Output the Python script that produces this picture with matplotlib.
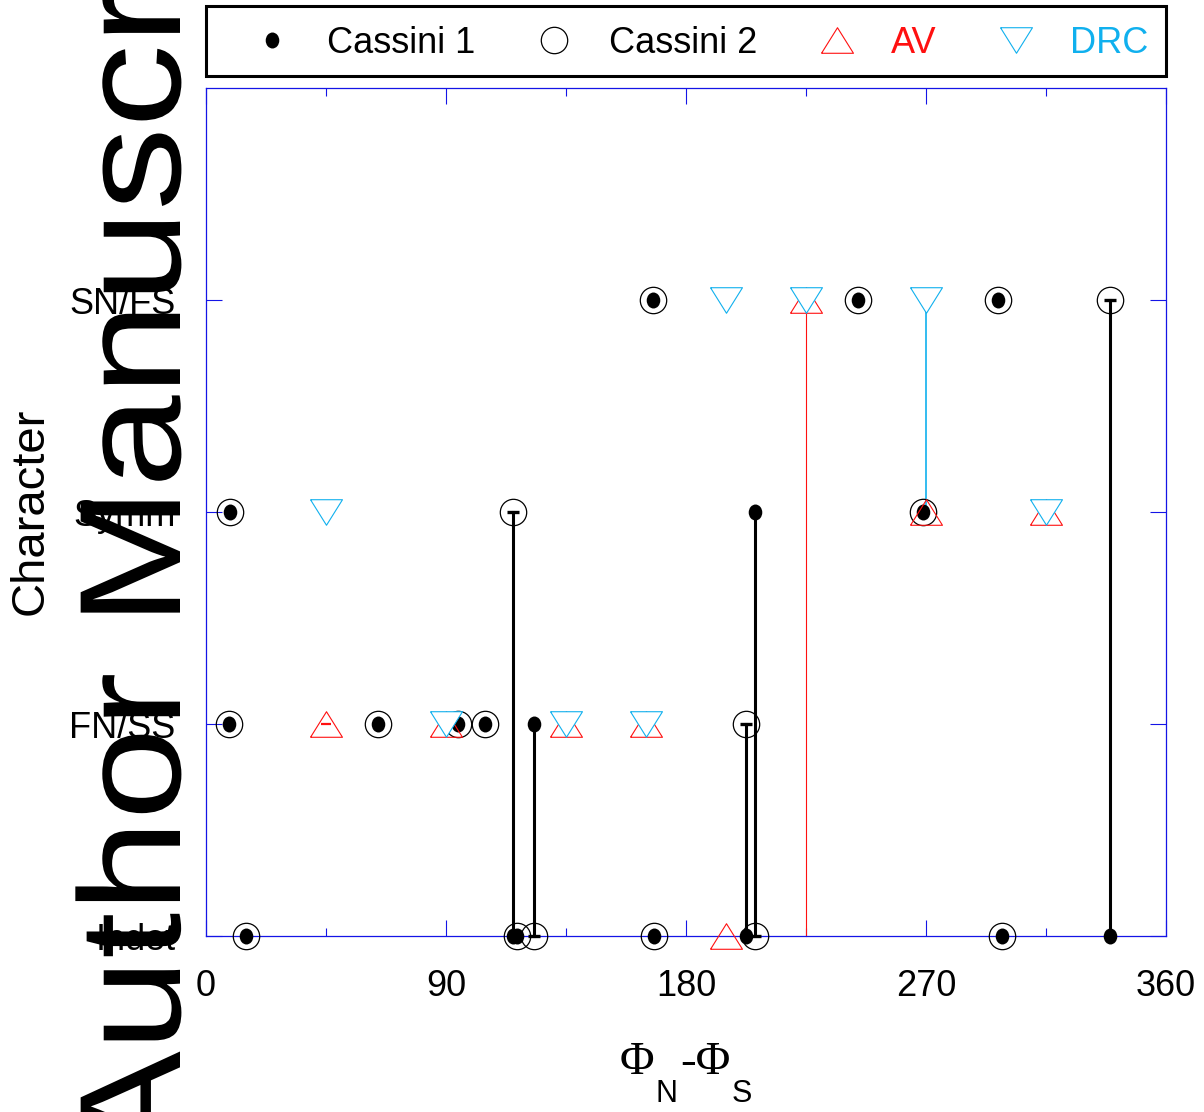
import matplotlib
matplotlib.use("Agg")
import matplotlib.pyplot as plt
import numpy as np
from matplotlib.lines import Line2D
from matplotlib.path import Path
from matplotlib.textpath import TextPath
from matplotlib.patches import PathPatch, Rectangle
from matplotlib.font_manager import FontProperties
from matplotlib.transforms import Affine2D

plt.rcParams['font.family'] = ['Liberation Sans', 'DejaVu Sans']

# character classes on the y axis
characters = ['Indet', 'FN/SS', 'Symm', 'SN/FS']

# events: phase difference and character seen by Cassini 1 / Cassini 2
phase = [167.5, 244.5, 297, 339, 9, 115, 206, 269, 8.5, 64.5, 94.5, 104.5,
         123, 202.5, 15, 116.5, 168, 298.5]
cassini1 = [3, 3, 3, 0, 2, 0, 2, 2, 1, 1, 1, 1, 1, 0, 0, 0, 0, 0]
cassini2 = [3, 3, 3, 3, 2, 2, 0, 2, 1, 1, 1, 1, 0, 1, 0, 0, 0, 0]

av_phase = [225, 270, 315, 45, 90, 135, 165, 195]
av_char = [3, 2, 2, 1, 1, 1, 1, 0]
av_link = (225, 3, 0)          # phase, from, to
av_cap = (45, 1)

drc_phase = [195, 225, 270, 45, 315, 90, 135, 165]
drc_char = [3, 3, 3, 2, 2, 1, 1, 1]
drc_link = (270, 3, 2)

RED = '#FF1010'
CYAN = '#10B0EE'
BLUE = '#1414E6'

W, H = 1204, 1112
fig = plt.figure(figsize=(W / 100, H / 100), dpi=100)
ax = fig.add_axes([206 / W, (H - 936) / H, 960 / W, 848 / H])

# marker shapes
dot = Affine2D().scale(0.85, 1.0).transform_path(Path.unit_circle())
tri_up = [(-1, -0.8), (1, -0.8), (0, 0.8), (-1, -0.8)]
tri_dn = [(-1, 0.8), (1, 0.8), (0, -0.8), (-1, 0.8)]

# vertical links
ax.plot([av_link[0]] * 2, [av_link[1], av_link[2]], color=RED, lw=0.8,
        zorder=2, clip_on=False)
ax.plot([drc_link[0]] * 2, [drc_link[1], drc_link[2]], color=CYAN, lw=1.2,
        zorder=2, clip_on=False)
for p, a, b in zip(phase, cassini1, cassini2):
    if a != b:
        ax.plot([p, p], [a, b], color='black', lw=2.2, zorder=2, clip_on=False)
        ax.plot(p, b, marker='_', ms=8, mew=2.4, color='black', zorder=6,
                clip_on=False)

ax.plot(phase, cassini2, ls='none', marker='o', ms=19, mfc='none', mec='black',
        mew=0.9, zorder=3, clip_on=False)
ax.plot(phase, cassini1, ls='none', marker=dot, ms=11.5, mfc='black',
        mec='black', mew=0, zorder=3, clip_on=False)
ax.plot(av_phase, av_char, ls='none', marker=tri_up, ms=23, mfc='none',
        mec=RED, mew=0.8, zorder=4, clip_on=False)
ax.plot(av_cap[0], av_cap[1], marker='_', ms=7, mew=1.6, color=RED, zorder=4)
ax.plot(drc_phase, drc_char, ls='none', marker=tri_dn, ms=23, mfc='white',
        mec=CYAN, mew=0.8, zorder=5, clip_on=False)

ax.set_xlim(0, 360)
ax.set_ylim(0, 4)
ax.set_xticks([0, 90, 180, 270, 360])
ax.set_xticks([45, 135, 225, 315], minor=True)
ax.set_yticks([0, 1, 2, 3])
ax.set_yticklabels(characters)
ax.tick_params(which='both', direction='in', top=True, right=True, colors=BLUE,
               labelcolor='black', labelsize=26, width=0.8)
ax.tick_params(which='major', length=11.5)
ax.tick_params(which='minor', length=5.8)
ax.tick_params(axis='x', pad=24)
ax.tick_params(axis='y', pad=22)
for s in ax.spines.values():
    s.set_color(BLUE)
    s.set_linewidth(0.9)

# legend (frame drawn separately so the entries can sit off-centre)
handles = [
    Line2D([], [], ls='none', marker=dot, ms=11.5, mfc='black', mec='black', mew=0),
    Line2D([], [], ls='none', marker='o', ms=19, mfc='none', mec='black', mew=0.9),
    Line2D([], [], ls='none', marker=tri_up, ms=23, mfc='none', mec=RED, mew=0.8),
    Line2D([], [], ls='none', marker=tri_dn, ms=23, mfc='none', mec=CYAN, mew=0.8),
]
labels = ['Cassini 1', 'Cassini 2', 'AV', 'DRC']
leg = ax.legend(handles, labels, ncol=4, loc='center left',
                bbox_to_anchor=(0.026, 1.0528, 0.969, 0.0), mode='expand',
                borderaxespad=0, frameon=False, fontsize=26, handlelength=1.6,
                handletextpad=0.7, borderpad=0.35)
for t, c in zip(leg.get_texts(), ['black', 'black', RED, CYAN]):
    t.set_color(c)
ax.add_patch(Rectangle((0, 1.0142), 1, 0.0825, transform=ax.transAxes,
                       fill=False, ec='black', lw=2.2, clip_on=False))

# axis titles
fig.text(31 / W, (H - 511) / H, 'Character', rotation=90, ha='center',
         va='center', fontsize=34)
serif = ['Liberation Serif', 'DejaVu Serif']
fig.text(620 / W, (H - 1074) / H, 'Φ', family=serif, fontsize=34, ha='left',
         va='baseline')
fig.text(656 / W, (H - 1102) / H, 'N', fontsize=22, ha='left', va='baseline')
fig.text(680 / W, (H - 1074) / H, '-Φ', family=serif, fontsize=34, ha='left',
         va='baseline')
fig.text(732 / W, (H - 1102) / H, 'S', fontsize=22, ha='left', va='baseline')

# "Author Manuscript" watermark
tp = TextPath((0, 0), 'Author Manuscript', size=174,
              prop=FontProperties(family='Liberation Sans'))
tr = (Affine2D().scale(0.955, 0.83).rotate_deg(90).translate(180, -50)
      + Affine2D().scale(1 / W, 1 / H) + fig.transFigure)
fig.patches.append(PathPatch(tp, transform=tr, color='black', lw=0,
                             zorder=0))

fig.savefig('out.png', dpi=100)
